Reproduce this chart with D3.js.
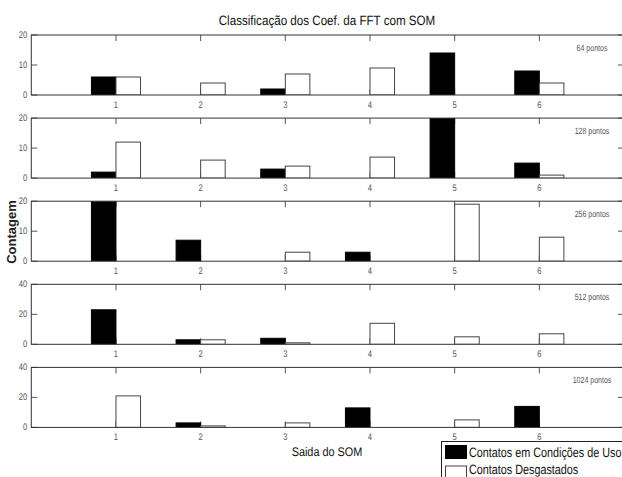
<!DOCTYPE html>
<html>
	<head>
		<meta charset="utf-8">
		<title>Classificação dos Coef. da FFT com SOM</title>
		<script src="https://d3js.org/d3.v7.min.js"></script>
		<style>
			body { margin: 0; background: #fff; }
			text { font-family: "Liberation Sans", Arial, sans-serif; text-rendering: geometricPrecision; }
		</style>
	</head>
	<body>
		<div id="chart"></div>
		<script>
			//Data
			var categories = [1, 2, 3, 4, 5, 6];
			var panelLabels = ["64 pontos", "128 pontos", "256 pontos", "512 pontos", "1024 pontos"];
			var yMaxes = [20, 20, 20, 40, 40];
			var yTickSets = [[0, 10, 20], [0, 10, 20], [0, 10, 20], [0, 20, 40], [0, 20, 40]];
			// Contatos em Condições de Uso (black)
			var usoCounts = [
				[6, 0, 2, 0, 14, 8],
				[2, 0, 3, 0, 20, 5],
				[20, 7, 0, 3, 0, 0],
				[23, 3, 4, 0, 0, 0],
				[0, 3, 0, 13, 0, 14]
			];
			// Contatos Desgastados (white)
			var desgCounts = [
				[6, 4, 7, 9, 0, 4],
				[12, 6, 4, 7, 0, 1],
				[0, 0, 3, 0, 19, 8],
				[0, 3, 1, 14, 5, 7],
				[21, 1, 3, 0, 5, 0]
			];
			var seriesNames = ["Contatos em Condições de Uso", "Contatos Desgastados"];

			//Setup
			var width = 622, height = 477;
			var svg = d3.select("#chart").append("svg")
				.attr("width", width)
				.attr("height", height);

			var x = d3.scaleLinear().domain([0, 7]).range([31.3, 624]);
			var barW = 0.29;
			var panelH = 60;
			var tickLen = 6;
			var axisColor = "#333";

			// narrow text: the original font is condensed
			function narrowText(parent, tx, ty, str, size, anchor, sx, fill) {
				return parent.append("text")
					.attr("transform", "translate(" + tx + "," + ty + ") scale(" + sx + ",1)")
					.attr("text-anchor", anchor)
					.attr("font-size", size + "px")
					.attr("fill", fill)
					.text(str);
			}

			narrowText(svg, 327, 25, "Classificação dos Coef. da FFT com SOM", 13.5, "middle", 0.86, "#111");

			panelLabels.forEach(function(label, k) {
				var top = 35 + 83.1 * k;
				var y = d3.scaleLinear().domain([0, yMaxes[k]]).range([top + panelH, top]);
				var g = svg.append("g");

				var clipId = "clip" + k;
				svg.append("clipPath").attr("id", clipId)
					.append("rect")
					.attr("x", x(0)).attr("y", top)
					.attr("width", x(7) - x(0)).attr("height", panelH);

				// ticks (inward)
				g.selectAll(".xt").data(categories).enter().append("line")
					.attr("x1", d => x(d)).attr("x2", d => x(d))
					.attr("y1", top).attr("y2", top + tickLen)
					.attr("stroke", "#555");
				g.selectAll(".xb").data(categories).enter().append("line")
					.attr("x1", d => x(d)).attr("x2", d => x(d))
					.attr("y1", top + panelH).attr("y2", top + panelH - tickLen)
					.attr("stroke", "#555");
				g.selectAll(".yl").data(yTickSets[k]).enter().append("line")
					.attr("x1", x(0)).attr("x2", x(0) + tickLen)
					.attr("y1", d => y(d)).attr("y2", d => y(d))
					.attr("stroke", "#555");
				g.selectAll(".yr").data(yTickSets[k]).enter().append("line")
					.attr("x1", x(7)).attr("x2", x(7) - tickLen)
					.attr("y1", d => y(d)).attr("y2", d => y(d))
					.attr("stroke", "#555");

				var bars = g.append("g").attr("clip-path", "url(#" + clipId + ")");
				bars.selectAll(".uso").data(usoCounts[k]).enter().append("rect")
					.attr("x", (d, i) => x(categories[i] - barW))
					.attr("width", x(barW) - x(0))
					.attr("y", d => y(d))
					.attr("height", d => y(0) - y(d))
					.attr("fill", "#000")
					.attr("stroke", "#000");
				bars.selectAll(".desg").data(desgCounts[k]).enter().append("rect")
					.attr("x", (d, i) => x(categories[i]))
					.attr("width", x(barW) - x(0))
					.attr("y", d => y(d))
					.attr("height", d => y(0) - y(d))
					.attr("fill", "#fff")
					.attr("stroke", "#444");

				// box
				g.append("rect")
					.attr("x", x(0)).attr("y", top)
					.attr("width", x(7) - x(0)).attr("height", panelH)
					.attr("fill", "none")
					.attr("stroke", axisColor);

				// tick labels
				yTickSets[k].forEach(function(t) {
					narrowText(g, x(0) - 4, y(t) + 3, t, 9.5, "end", 0.8, "#555");
				});
				categories.forEach(function(c) {
					narrowText(g, x(c), top + panelH + 12.5, c, 9.5, "middle", 0.8, "#555");
				});

				narrowText(g, 592, top + 16, label, 9, "middle", 0.78, "#555");
			});

			svg.append("text")
				.attr("transform", "translate(16,232) rotate(-90)")
				.attr("text-anchor", "middle")
				.attr("font-size", "13px")
				.attr("font-weight", "bold")
				.attr("fill", "#222")
				.text("Contagem");

			narrowText(svg, 327, 456, "Saida do SOM", 12.5, "middle", 0.87, "#111");

			// legend
			var legend = svg.append("g");
			legend.append("rect")
				.attr("x", 441.5).attr("y", 441.5)
				.attr("width", 200).attr("height", 60)
				.attr("fill", "#fff")
				.attr("stroke", "#222");
			seriesNames.forEach(function(name, i) {
				legend.append("rect")
					.attr("x", 445.5).attr("y", 445.5 + i * 20.5)
					.attr("width", 21).attr("height", 13)
					.attr("fill", i == 0 ? "#000" : "#fff")
					.attr("stroke", i == 0 ? "#000" : "#444");
				narrowText(legend, 469, 457 + i * 17, name, 13.5, "start", 0.8, "#111");
			});
		</script>
	</body>
</html>
